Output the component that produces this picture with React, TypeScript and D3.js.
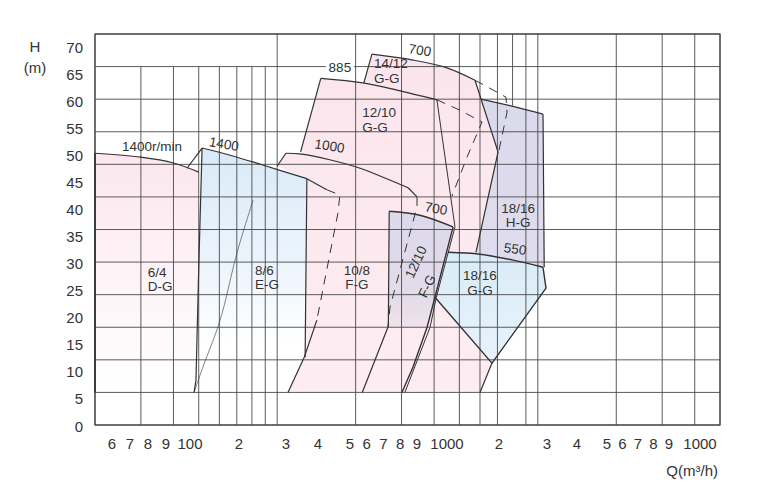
import React from 'react'
import * as d3 from 'd3'

type Pt = [number, number]

// Q in m3/h (grid scale), H in m (grid scale)
// 6/4 D-G, 1400 r/min
const dgHead: Pt[] = [[20, 41.7], [30, 41.1], [40, 40.2], [50, 38.8]]
const dgBase: Pt[] = [[50, 5], [20, 5]]

// 8/6 E-G, 1400 r/min
const egHead: Pt[] = [[51.5, 42.5], [66, 41.4], [88, 39.9], [130, 37.8]]
const egRight: Pt[] = [[130, 37.8], [128, 10.4]]
const egLeft: Pt[] = [[51.5, 42.5], [50.1, 25.3], [48.8, 6.9], [48, 5]]
const egMin: Pt[] = [[48, 5], [51.9, 8.9], [60.4, 16.1], [70.1, 26.4], [80.8, 34.5]]
const egSpeed: Pt[] = [[45.1, 39.4], [51.5, 42.5]]

// 10/8 F-G, 1000 r/min
const fg108Head: Pt[] = [[108, 41.7], [122, 41.6], [159, 40.7], [208, 39.4], [248, 38.2], [318, 36.4]]
const fg108Corner: Pt[] = [[108, 41.7], [99.9, 39.7]]
const fg108Hook: Pt[] = [[318, 36.4], [344, 35]]
const fg108Trim: Pt[] = [[344, 35], [344, 33.5], [271, 18.1], [266, 15]]
const fg108Low: Pt[] = [[266, 15], [212, 5]]
const fg108InTop: Pt[] = [[130, 37.8], [155, 36.1]]
const fg108InTrim: Pt[] = [[155, 36.1], [174, 35.3], [171, 32.5], [142, 16.1]]
const fg108InLow: Pt[] = [[142, 16.1], [127, 10.4], [110, 5]]

// 12/10 G-G, 885 r/min
const gg1210Head: Pt[] = [[147, 53.2], [213, 52.5], [288, 51.4], [410, 49.9]]
const gg1210Left: Pt[] = [[147, 53.2], [123, 41.9]]
const gg1210Right: Pt[] = [[410, 49.9], [481, 30.4], [408, 19.6], [386, 15], [309, 5]]
const gg1210Trim: Pt[] = [[410, 49.9], [503, 48.3], [611, 46.5], [535, 41.1], [468, 35.1]]

// 14/12 G-G, 700 r/min
const gg1412Head: Pt[] = [[231, 56.9], [332, 56], [448, 54.8], [574, 52.9]]
const gg1412Left: Pt[] = [[231, 56.9], [215, 52.5]]
const gg1412Right: Pt[] = [[574, 52.9], [704, 41.9], [579, 26.5]]
const gg1412Trim: Pt[] = [[574, 52.9], [633, 52], [755, 50.3], [762, 48], [710, 42.2]]
const gg1412Low: Pt[] = [[667, 9.5], [600, 5]]

// 12/10 F-G, 700 r/min
const fg1210Head: Pt[] = [[269, 32.8], [353, 32.2], [473, 30.4]]
const fg1210Left: Pt[] = [[269, 32.8], [267, 15]]
const fg1210Right: Pt[] = [[473, 30.4], [403, 19.6], [376, 15], [332, 8.9], [301, 5]]

// 18/16 G-G, 550 r/min
const gg1816Head: Pt[] = [[452, 26.5], [600, 26.2], [803, 25.3], [1047, 24.2]]
const gg1816Edge: Pt[] = [[1047, 24.2], [1075, 21], [667, 9.5], [403, 19.6]]

// 18/16 H-G
const hg1816Head: Pt[] = [[605, 50], [782, 49], [1047, 47.7]]
const hg1816Right: Pt[] = [[1047, 47.7], [1058, 24.2]]

// axes
const yTickValues = d3.range(0, 71, 5)
const xTickText = ['6', '7', '8', '9', '100', '2', '3', '4', '5', '6', '7', '8', '9', '1000', '2', '3', '4', '5', '6', '7', '8', '9', '1000']
const gridH = d3.range(0, 61, 5)
const gridMajorQ = [20, 100, 200, 300, 400, 500, 600, 700, 900, 1000, 2000, 3000, 4000, 5000]
const gridMinorQ = [30, 40, 50, 60, 70, 80, 90]

// labels placed in chart units
const modelLabels: { lines: string[]; q: number; h: number; anchor: string }[] = [
  { lines: ['6/4', 'D-G'], q: 31.9, h: 23.5, anchor: 'start' },
  { lines: ['8/6', 'E-G'], q: 82.2, h: 23.8, anchor: 'start' },
  { lines: ['10/8', 'F-G'], q: 202, h: 23.8, anchor: 'middle' },
  { lines: ['12/10', 'G-G'], q: 212, h: 48, anchor: 'start' },
  { lines: ['14/12', 'G-G'], q: 235, h: 55.5, anchor: 'start' },
  { lines: ['18/16', 'H-G'], q: 840, h: 33.3, anchor: 'middle' },
  { lines: ['18/16', 'G-G'], q: 600, h: 23, anchor: 'middle' },
]
const speedLabels: { text: string; q: number; h: number; rot: number }[] = [
  { text: '1400r/min', q: 33.1, h: 42.7, rot: 0 },
  { text: '1400', q: 62.5, h: 43.1, rot: 10 },
  { text: '1000', q: 159, h: 42.8, rot: 9 },
  { text: '700', q: 353, h: 57.5, rot: 9 },
  { text: '700', q: 407, h: 33.2, rot: 10 },
  { text: '550', q: 818, h: 27, rot: 8 },
]

const FONT = '"Liberation Sans", Arial, Helvetica, sans-serif'

export default function App() {
  const x = d3.scaleLog().domain([20, 5000]).range([95, 720])
  const y = d3.scaleLinear().domain([0, 60]).range([425, 34])
  const yLab = d3.scaleLinear().domain([0, 70]).range([426, 47])
  const xLab = d3.scaleLinear()
    .domain([0, 3, 4, 5, 6, 8, 12, 13, 14, 15, 17, 21, 22])
    .range([112, 166, 190, 239, 286, 350, 417, 447, 499, 547, 607, 669, 700])

  const straight = d3.line<Pt>().x(d => x(d[0])).y(d => y(d[1]))
  const smooth = d3.line<Pt>().x(d => x(d[0])).y(d => y(d[1])).curve(d3.curveCatmullRom)
  const shape = (head: Pt[], rest: Pt[]) =>
    (smooth(head) || '') + rest.map(p => `L${x(p[0])},${y(p[1])}`).join('') + 'Z'

  const ink = '#333'
  const solid = (d: Pt[], curved = false, w = 1.2) => (
    <path d={(curved ? smooth(d) : straight(d)) || ''} fill="none" stroke={ink} strokeWidth={w} />
  )
  const dashed = (d: Pt[]) => (
    <path d={straight(d) || ''} fill="none" stroke={ink} strokeWidth={1} strokeDasharray="9,7" />
  )

  return (
    <svg width={768} height={496} style={{ position: 'absolute', left: 0, top: 0, background: '#fff' }} fontFamily={FONT}>
      <defs>
        <linearGradient id="pinkDG" gradientUnits="userSpaceOnUse" x1="0" y1="150" x2="0" y2="392">
          <stop offset="0" stopColor="#fbe6ed" />
          <stop offset="0.45" stopColor="#fdf2f6" />
          <stop offset="1" stopColor="#ffffff" />
        </linearGradient>
        <linearGradient id="pink" gradientUnits="userSpaceOnUse" x1="0" y1="50" x2="0" y2="392">
          <stop offset="0" stopColor="#fbe5ec" />
          <stop offset="1" stopColor="#fdedf2" />
        </linearGradient>
        <linearGradient id="blueEG" gradientUnits="userSpaceOnUse" x1="0" y1="148" x2="0" y2="392">
          <stop offset="0" stopColor="#d8eaf8" />
          <stop offset="0.5" stopColor="#edf5fc" />
          <stop offset="0.8" stopColor="#ffffff" />
        </linearGradient>
        <linearGradient id="lav" gradientUnits="userSpaceOnUse" x1="0" y1="211" x2="0" y2="327">
          <stop offset="0" stopColor="#dcd9eb" />
          <stop offset="0.75" stopColor="#e2dcea" />
          <stop offset="1" stopColor="#f0e2eb" />
        </linearGradient>
        <linearGradient id="blueGG" gradientUnits="userSpaceOnUse" x1="0" y1="252" x2="0" y2="363">
          <stop offset="0" stopColor="#d9ecf8" />
          <stop offset="1" stopColor="#e8f3fb" />
        </linearGradient>
        <linearGradient id="lavHG" gradientUnits="userSpaceOnUse" x1="0" y1="99" x2="0" y2="267">
          <stop offset="0" stopColor="#dbd9ec" />
          <stop offset="1" stopColor="#dedced" />
        </linearGradient>
      </defs>

      {/* fills */}
      <path d={shape(dgHead, dgBase)} fill="url(#pinkDG)" />
      <path d={shape(gg1412Head, [[704, 41.9], [579, 26.5], [667, 9.5], [600, 5], [301, 5], [215, 52.5]])} fill="url(#pink)" />
      <path d={shape(gg1210Head, [[481, 30.4], [408, 19.6], [386, 15], [309, 5], [212, 5], [123, 41.9]])} fill="url(#pink)" />
      <path d={shape(fg108Head, [[344, 35], [344, 33.5], [271, 18.1], [266, 15], [212, 5], [110, 5], [127, 10.4], [130, 37.8], [99.9, 39.7]])} fill="url(#pink)" />
      <path d={shape(egHead, [[128, 10.4], [110, 5], [48, 5], [48.8, 6.9], [50.1, 25.3]])} fill="url(#blueEG)" />
      <path d={shape(fg1210Head, [[403, 19.6], [376, 15], [267, 15]])} fill="url(#lav)" />
      <path d={shape(hg1816Head, [[1058, 24.2], [1047, 24.2], [803, 25.3], [600, 26.2], [579, 26.5], [704, 41.9]])} fill="url(#lavHG)" />
      <path d={shape(gg1816Head, gg1816Edge.slice(1))} fill="url(#blueGG)" />

      {/* grid */}
      <g stroke="#4a4a4a" strokeWidth={0.9}>
        {gridH.map(h => (
          <line key={'h' + h} x1={x(20)} x2={x(5000)} y1={y(h)} y2={y(h)} />
        ))}
        {gridMajorQ.map(q => (
          <line key={'v' + q} x1={x(q)} x2={x(q)} y1={y(0)} y2={y(60)} />
        ))}
        {gridMinorQ.map(q => (
          <line key={'m' + q} x1={x(q)} x2={x(q)} y1={y(0)} y2={y(55)} />
        ))}
        <line x1={x(800)} x2={x(800)} y1={y(60)} y2={y(49)} />
      </g>
      <rect x={x(20)} y={y(60)} width={x(5000) - x(20)} height={y(0) - y(60)} fill="none" stroke="#444" strokeWidth={1.2} />

      {/* outlines */}
      {solid(dgHead, true)}
      {solid([[20, 41.7], [20, 5]], false, 1.6)}
      {solid(egHead, true)}
      {solid(egRight)}
      {solid(egLeft)}
      {solid(egMin, true, 0.6)}
      {solid(egSpeed)}
      {solid(fg108Head, true)}
      {solid(fg108Corner)}
      {solid(fg108Hook)}
      {dashed(fg108Trim)}
      {solid(fg108Low)}
      {solid(fg108InTop)}
      {dashed(fg108InTrim)}
      {solid(fg108InLow)}
      {solid(gg1210Head, true)}
      {solid(gg1210Left)}
      {solid(gg1210Right, false, 1)}
      {dashed(gg1210Trim)}
      {solid(gg1412Head, true)}
      {solid(gg1412Left)}
      {solid(gg1412Right)}
      {dashed(gg1412Trim)}
      {solid(gg1412Low)}
      {solid(fg1210Head, true, 1.5)}
      {solid(fg1210Left)}
      {solid(fg1210Right, false, 1.4)}
      {solid(hg1816Head, true)}
      {solid(hg1816Right)}
      {solid(gg1816Head, true, 1.5)}
      {solid(gg1816Edge, false, 1.4)}

      {/* 885 label over the grid line */}
      <rect x={x(174) - 14} y={y(54.8) - 7} width={28} height={14} fill="#fff" />
      <text x={x(174)} y={y(54.8)} textAnchor="middle" dominantBaseline="central" fontSize={13.5} fill={ink}>885</text>

      {speedLabels.map((s, i) => (
        <text key={'s' + i} x={x(s.q)} y={y(s.h)} textAnchor="middle" dominantBaseline="central" fontSize={13.5} fill={ink}
          transform={`rotate(${s.rot},${x(s.q)},${y(s.h)})`}>{s.text}</text>
      ))}
      {modelLabels.map((m, i) => (
        <text key={'m' + i} x={x(m.q)} y={y(m.h)} textAnchor={m.anchor} dominantBaseline="central" fontSize={13.5} fill={ink}>
          {m.lines.map((l, j) => (
            <tspan key={j} x={x(m.q)} dy={j === 0 ? 0 : 14.5}>{l}</tspan>
          ))}
        </text>
      ))}
      <g transform={`translate(${x(341)},${y(25)}) rotate(-65)`}>
        <text textAnchor="middle" dominantBaseline="central" fontSize={13.5} fill={ink}>12/10</text>
      </g>
      <g transform={`translate(${x(376)},${y(21.3)}) rotate(-65)`}>
        <text textAnchor="middle" dominantBaseline="central" fontSize={13.5} fill={ink}>F-G</text>
      </g>

      {/* axes labels */}
      {yTickValues.map(v => (
        <text key={'y' + v} x={83} y={yLab(v)} textAnchor="end" dominantBaseline="central" fontSize={15} fill={ink}>{v}</text>
      ))}
      {xTickText.map((t, i) => (
        <text key={'x' + i} x={xLab(i)} y={443} textAnchor="middle" dominantBaseline="central" fontSize={15} fill={ink}>{t}</text>
      ))}
      <text x={35} y={46} textAnchor="middle" dominantBaseline="central" fontSize={15} fill={ink}>H</text>
      <text x={35} y={67} textAnchor="middle" dominantBaseline="central" fontSize={15} fill={ink}>(m)</text>
      <text x={718} y={470} textAnchor="end" dominantBaseline="central" fontSize={15} fill={ink}>Q(m³/h)</text>
    </svg>
  )
}
